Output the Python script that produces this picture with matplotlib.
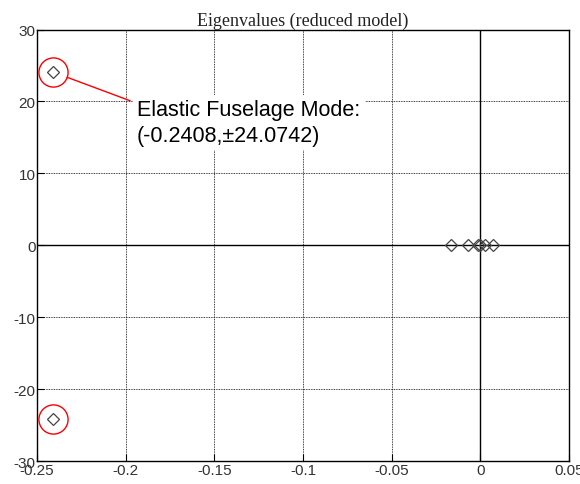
import matplotlib.pyplot as plt
import numpy as np

plt.rcParams["axes.unicode_minus"] = False

# eigenvalues of the reduced model (real, imag)
eig_re = [-0.2408, -0.2408, -0.0165, -0.0068, -0.0012, 0.0, 0.0025, 0.0072]
eig_im = [24.0742, -24.0742, 0.0, 0.0, 0.0, 0.0, 0.0, 0.0]
mode_re = -0.2408
mode_im = 24.0742
xticks = [-0.25, -0.2, -0.15, -0.1, -0.05, 0, 0.05]
xticklabels = ["-0.25", "-0.2", "-0.15", "-0.1", "-0.05", "0", "0.05"]
yticks = [-30, -20, -10, 0, 10, 20, 30]

fig = plt.figure(figsize=(5.8, 4.85), dpi=100)
ax = fig.add_axes([0.064, 0.047, 0.917, 0.89])

ax.axhline(0, color="black", lw=1.0, zorder=1)
ax.axvline(0, color="black", lw=1.0, zorder=1)
ax.grid(True, linestyle=(0, (1, 1)), color="black", lw=0.6, zorder=0)

ax.plot(eig_re, eig_im, linestyle="none", marker="D", markersize=6,
        markerfacecolor="none", markeredgecolor="#444444", markeredgewidth=0.9,
        zorder=3)

# highlight the elastic fuselage pair
ax.plot([mode_re, mode_re], [mode_im, -mode_im], linestyle="none", marker="o",
        markersize=21, markerfacecolor="none", markeredgecolor="red",
        markeredgewidth=1.0, zorder=4)

# leader line from the circle to the label
ax.annotate("", xy=(mode_re, mode_im), xytext=(-0.1975, 20.1),
            arrowprops=dict(arrowstyle="-", color="red", lw=1.0,
                            shrinkA=0, shrinkB=10.5),
            zorder=5)
ax.text(-0.1936, 20.35, "Elastic Fuselage Mode:\n(%.4f,\u00b1%.4f)" % (mode_re, mode_im),
        ha="left", va="top", fontsize=15.5, family="Liberation Sans",
        linespacing=1.32,
        bbox=dict(boxstyle="square,pad=0.2", fc="white", ec="none"),
        zorder=5)

ax.set_xlim(-0.25, 0.05)
ax.set_ylim(-30, 30)
ax.set_xticks(xticks)
ax.set_xticklabels(xticklabels)
ax.set_yticks(yticks)
ax.tick_params(direction="in", length=5, labelsize=11, pad=1, labelcolor="#333333")
for lbl in ax.get_xticklabels() + ax.get_yticklabels():
    lbl.set_family("Liberation Sans")
for s in ax.spines.values():
    s.set_linewidth(1.0)

ax.set_title("Eigenvalues (reduced model)", family="Liberation Serif",
             fontsize=13, pad=3, color="#222222")

fig.savefig("out.png", dpi=100)
